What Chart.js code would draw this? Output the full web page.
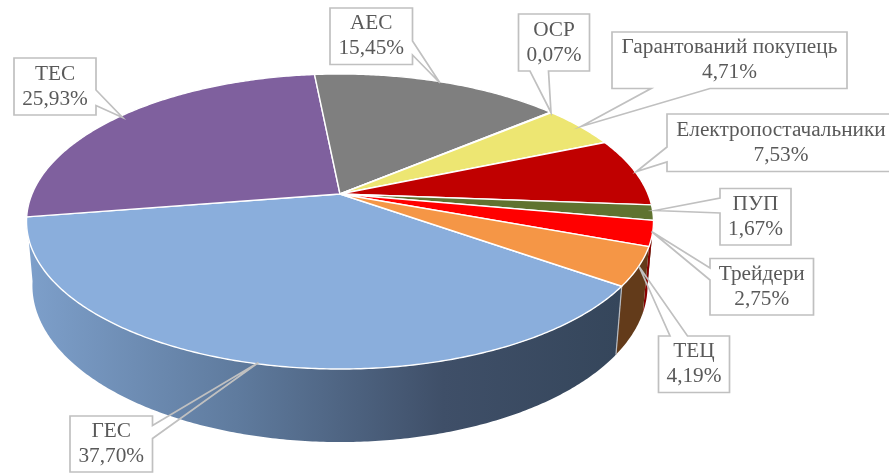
<!DOCTYPE html>
<html>
<head>
<meta charset="utf-8">
<style>
  html, body { margin: 0; padding: 0; background: #fff; overflow: hidden; }
  canvas { display: block; }
</style>
<script src="https://cdn.jsdelivr.net/npm/chart.js@4/dist/chart.umd.js"></script>
</head>
<body>
<canvas id="myChart" width="889" height="473"></canvas>
<script>
const categories = ['ГЕС', 'ТЕС', 'АЕС', 'ОСР', 'Гарантований покупець', 'Електропостачальники', 'ПУП', 'Трейдери', 'ТЕЦ'];
const shares = [37.70, 25.93, 15.45, 0.07, 4.71, 7.53, 1.67, 2.75, 4.19];
const topColors = ['#8aaedc', '#7f609e', '#7f7f7f', '#a5a5a5', '#ede672', '#c00000', '#5f7330', '#ff0000', '#f59646'];
const wallColors = [null, '#4c3a5f', '#4c4c4c', '#636363', '#8e8a44', '#730000', '#39451d', '#8a0000', '#633b1a'];
const firstAngle = 125.3;

// perspective of the pie, fitted on the reference
const cx = 340, cy = 194, fx = 308, fy = 142.4, tilt = 0.1864;
const drop = 64, shrink = 0.0186;

function project(angle, low) {
    const u = Math.cos(angle);
    const v = -Math.sin(angle);
    const w = 1 + tilt * v + (low ? shrink : 0);
    return {
        x: cx + fx * u / w,
        y: cy + (-fy * v + (low ? drop : 0)) / w
    };
}

function arcAngles(start, end) {
    const steps = Math.max(2, Math.ceil((end - start) / 0.01));
    const angles = [];
    for (let i = 0; i <= steps; i++) {
        angles.push(start + (end - start) * i / steps);
    }
    return angles;
}

function drawWalls(ctx, arcs) {
    const order = arcs.map(function (arc, i) { return i; });
    order.sort(function (a, b) {
        const midA = (arcs[a].startAngle + arcs[a].endAngle) / 2;
        const midB = (arcs[b].startAngle + arcs[b].endAngle) / 2;
        return Math.sin(midA) - Math.sin(midB);
    });

    order.forEach(function (i) {
        // only the part of the rim that faces the viewer
        const front = arcAngles(arcs[i].startAngle, arcs[i].endAngle).filter(function (a) {
            return Math.sin(a) > 0.15;
        });
        if (front.length < 2) return;

        const top = front.map(function (a) { return project(a, false); });
        const low = front.map(function (a) { return project(a, true); }).reverse();
        ctx.beginPath();
        top.concat(low).forEach(function (p, n) {
            if (n === 0) ctx.moveTo(p.x, p.y); else ctx.lineTo(p.x, p.y);
        });
        ctx.closePath();
        if (wallColors[i]) {
            ctx.fillStyle = wallColors[i];
        } else {
            const gradient = ctx.createLinearGradient(30, 0, 620, 0);
            gradient.addColorStop(0, '#7d9fca');
            gradient.addColorStop(0.35, '#5f7b9e');
            gradient.addColorStop(0.7, '#3f4f68');
            gradient.addColorStop(1, '#35465b');
            ctx.fillStyle = gradient;
        }
        ctx.fill();
    });

    // seam between the big wall and the next one
    const a = project(arcs[0].startAngle, false);
    const b = project(arcs[0].startAngle, true);
    ctx.strokeStyle = '#b8bcc2';
    ctx.lineWidth = 1.2;
    ctx.beginPath();
    ctx.moveTo(a.x, a.y);
    ctx.lineTo(b.x, b.y);
    ctx.stroke();
}

function drawFaces(ctx, arcs) {
    arcs.forEach(function (arc, i) {
        ctx.beginPath();
        ctx.moveTo(cx, cy);
        arcAngles(arc.startAngle, arc.endAngle).forEach(function (a) {
            const p = project(a, false);
            ctx.lineTo(p.x, p.y);
        });
        ctx.closePath();
        ctx.fillStyle = topColors[i];
        ctx.fill();
        ctx.strokeStyle = '#ffffff';
        ctx.lineWidth = 1.4;
        ctx.lineJoin = 'round';
        ctx.stroke();
    });
}

const pie3d = {
    id: 'pie3d',
    beforeDatasetDraw: function (chart, args) {
        const arcs = chart.getDatasetMeta(args.index).data;
        drawWalls(chart.ctx, arcs);
        drawFaces(chart.ctx, arcs);
        return false;
    }
};

// callouts: box, then the wedge outline [from, tip, to], same order as categories
const callouts = [
    { box: [70, 416, 152.5, 472], wedge: [[152.5, 425.5], [258.5, 362.5], [152.5, 438.5]], side: 'right' },
    { box: [14, 58, 96, 115], wedge: [[96, 90], [122.5, 117.5], [96, 105.5]], side: 'right' },
    { box: [330, 8, 412.5, 64.5], wedge: [[412.5, 41], [440, 83], [412.5, 55]], side: 'right' },
    { box: [518.5, 14, 589.5, 71], wedge: [[530, 71], [551, 112.5], [548.5, 71]], side: 'bottom' },
    { box: [612, 32, 847, 88.5], wedge: [[651, 88.5], [581, 126.5], [710, 88.5]], side: 'bottom' },
    { box: [667, 114, 895, 171.5], wedge: [[667, 147], [636.5, 171.5], [667, 162]], side: 'left' },
    { box: [720, 188.5, 791, 245], wedge: [[720, 198], [655, 210.5], [720, 213]], side: 'left' },
    { box: [710, 258.5, 813.5, 315], wedge: [[710, 268], [651.5, 231.5], [710, 280]], side: 'left' },
    { box: [658.5, 336, 729.5, 392.5], wedge: [[670, 336], [639, 266.5], [687.5, 336]], side: 'top' }
];

function boxOutline(box, wedge, side) {
    const l = box[0], t = box[1], r = box[2], b = box[3];
    const from = wedge[0], tip = wedge[1], to = wedge[2];
    // walks round the box from one end of the wedge to the other
    if (side === 'right') return [tip, to, [r, b], [l, b], [l, t], [r, t], from, tip];
    if (side === 'left') return [tip, from, [l, t], [r, t], [r, b], [l, b], to, tip];
    if (side === 'bottom') return [tip, from, [l, b], [l, t], [r, t], [r, b], to, tip];
    return [tip, to, [r, t], [r, b], [l, b], [l, t], from, tip];
}

const calloutPlugin = {
    id: 'calloutPlugin',
    afterDraw: function (chart) {
        const ctx = chart.ctx;
        ctx.save();
        callouts.forEach(function (c, i) {
            ctx.beginPath();
            boxOutline(c.box, c.wedge, c.side).forEach(function (p, n) {
                if (n === 0) ctx.moveTo(p[0], p[1]); else ctx.lineTo(p[0], p[1]);
            });
            ctx.closePath();
            ctx.strokeStyle = '#c0c0c0';
            ctx.lineWidth = 1.7;
            ctx.lineJoin = 'miter';
            ctx.stroke();

            const middleX = (c.box[0] + c.box[2]) / 2;
            const middleY = (c.box[1] + c.box[3]) / 2;
            ctx.fillStyle = '#595959';
            ctx.font = '21.3px "Liberation Serif"';
            ctx.textAlign = 'center';
            ctx.textBaseline = 'middle';
            ctx.fillText(categories[i], middleX, middleY - 12.5);
            ctx.fillText(shares[i].toFixed(2).replace('.', ',') + '%', middleX, middleY + 12.5);
        });
        ctx.restore();
    }
};

new Chart(document.getElementById('myChart'), {
    type: 'pie',
    data: {
        labels: categories,
        datasets: [{
            data: shares,
            backgroundColor: topColors
        }]
    },
    options: {
        responsive: false,
        animation: false,
        rotation: firstAngle,
        plugins: {
            legend: { display: false },
            tooltip: { enabled: false }
        }
    },
    plugins: [pie3d, calloutPlugin]
});
</script>
</body>
</html>
